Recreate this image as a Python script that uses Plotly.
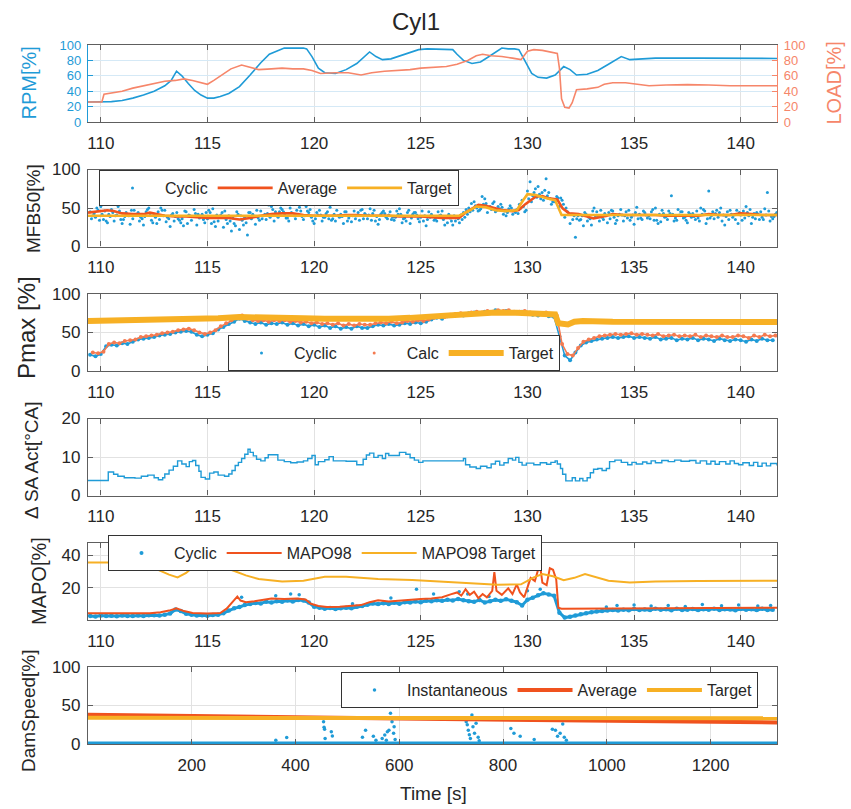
import plotly.graph_objects as go

BLUE = '#1f9bd7'
RED = '#f0521e'
YEL = '#f7b024'
SALMON = '#f6866a'
CALC = '#f47a50'
TXT = '#262626'
AX = '#5e5e5e'
GRID = '#e2e2e2'
FONT = 'Liberation Sans, Arial, sans-serif'

# ---------------- data ----------------
time_ticks = [110, 115, 120, 125, 130, 135, 140]
cycle_ticks = [200, 400, 600, 800, 1000, 1200]

rpm = [(109.4, 26), (110.0, 26), (110.5, 26.5), (111.0, 28), (111.5, 31), (112.0, 35), (112.5, 40),
       (113.0, 47), (113.3, 54), (113.55, 66), (113.8, 60), (114.1, 50), (114.4, 41), (114.7, 35),
       (115.0, 31), (115.3, 31), (115.6, 33), (116.0, 37), (116.5, 46), (117.0, 61), (117.5, 77),
       (117.9, 88), (118.3, 92), (118.6, 96), (119.0, 96), (119.5, 96), (119.65, 95), (119.9, 85),
       (120.2, 70), (120.5, 64), (121.0, 63), (121.5, 68), (122.0, 76), (122.3, 83), (122.6, 91),
       (122.9, 85), (123.2, 81), (123.6, 82), (124.0, 86), (124.5, 90), (124.9, 94), (125.3, 95),
       (126.0, 94), (126.5, 94), (126.7, 88), (127.0, 80), (127.4, 76), (127.8, 78), (128.2, 85),
       (128.6, 93), (128.8, 96), (129.1, 95), (129.4, 95), (129.6, 94), (129.9, 78), (130.2, 63),
       (130.5, 58), (130.9, 57), (131.3, 61), (131.7, 72), (132.0, 68), (132.3, 61), (132.8, 62),
       (133.3, 67), (133.8, 75), (134.4, 85), (134.8, 81), (135.3, 82), (136.0, 83), (138.0, 83),
       (140.0, 82.5), (141.7, 82.5)]

load = [(109.4, 26), (110.05, 26), (110.15, 36), (110.5, 38), (111.0, 40), (111.5, 44), (112.0, 47),
        (112.5, 50), (113.0, 53), (113.5, 54), (113.9, 56), (114.3, 54), (114.7, 51), (115.0, 49),
        (115.3, 54), (115.7, 62), (116.1, 69), (116.6, 74), (117.0, 71), (117.4, 68), (118.0, 69),
        (118.5, 70), (119.0, 69), (119.5, 69), (119.9, 67), (120.3, 63), (121.0, 64), (121.6, 64),
        (122.2, 61), (122.7, 64), (123.3, 66), (124.0, 67), (124.5, 68), (125.0, 70), (125.6, 71),
        (126.2, 72), (126.7, 75), (127.2, 80), (127.6, 86), (127.9, 88), (128.3, 86), (128.8, 85),
        (129.3, 83), (129.7, 81), (130.0, 92), (130.3, 94), (130.7, 93), (131.0, 91), (131.4, 89),
        (131.5, 70), (131.6, 30), (131.75, 19), (131.95, 18), (132.1, 25), (132.3, 42), (132.8, 43),
        (133.3, 45), (133.6, 49), (134.0, 51), (134.6, 51), (135.2, 49), (135.7, 47), (136.5, 48),
        (137.5, 48.5), (138.5, 48), (139.5, 47), (140.5, 47), (141.7, 47)]

# cyclic samples: first sample at 109.5 s, one every 0.25 s
cyc_t0 = 109.5
cyc_dt = 0.25

mfb_cyc_a = [45, 38, 52, 33, 48, 41, 30, 55, 36, 44, 28, 50, 42, 35, 47, 26, 39, 31, 45, 34,
             28, 42, 36, 49, 33, 25, 40, 30, 22, 38, 44, 29, 46, 35, 52, 40, 48, 37, 55, 42,
             35, 44, 30, 47, 38, 51, 33, 42, 45, 32, 40, 48, 36, 43, 29, 46, 41, 34, 49, 37,
             30, 44, 38, 27, 42, 33, 46, 31, 28, 36, 44, 50, 58, 47, 62, 52, 45, 55, 40, 50,
             48, 60, 72, 66, 78, 60, 70, 58, 52, 38, 30, 12, 35, 42, 28, 45, 38, 31, 46, 40,
             33, 47, 29, 42, 44, 36, 50, 32, 39, 66, 34, 45, 31, 43, 37, 48, 72, 36, 44, 28,
             47, 35, 41, 52, 30, 44, 38, 70, 36]
mfb_cyc_b = [40, 47, 35, 42, 33, 46, 39, 29, 82, 38, 45, 34, 30, 47, 38, 43, 36, 27, 41, 48,
             37, 31, 44, 26, 41, 35, 20, 45, 34, 15, 42, 37, 40, 54, 33, 45, 41, 50, 36, 46,
             52, 38, 44, 33, 45, 36, 40, 30, 37, 46, 34, 43, 49, 33, 42, 38, 35, 46, 31, 44,
             42, 36, 33, 45, 34, 40, 28, 37, 33, 41, 48, 56, 50, 65, 44, 56, 52, 42, 49, 46,
             55, 45, 84, 75, 62, 88, 55, 65, 60, 45, 35, 40, 27, 38, 50, 33, 43, 36, 30, 48,
             45, 38, 51, 35, 37, 48, 30, 43, 46, 33, 41, 38, 42, 35, 50, 30, 40, 47, 33, 45,
             38, 30, 46, 40, 43, 35, 49, 33, 42]
mfb_cyc_c = [36, 50, 42, 31, 44, 52, 35, 40, 47, 33, 39, 43, 38, 50, 32, 41, 44, 36, 30, 39,
             42, 35, 47, 32, 38, 46, 33, 27, 40, 31, 36, 47, 36, 43, 48, 38, 45, 33, 40, 51,
             40, 48, 36, 41, 43, 34, 47, 39, 33, 40, 44, 36, 41, 47, 35, 43, 45, 38, 42, 33,
             37, 41, 46, 35, 39, 45, 35, 42, 40, 31, 38, 45, 53, 49, 56, 48, 47, 51, 44, 42,
             43, 52, 62, 70, 68, 73, 62, 59, 63, 50, 42, 36, 40, 33, 46, 39, 35, 44, 38, 42,
             40, 34, 44, 37, 41, 45, 34, 47, 35, 42, 48, 37, 44, 39, 33, 46, 37, 43, 50, 39,
             42, 47, 34, 44, 38, 42, 35, 46, 39]
mfb_cyc_d = [43, 34, 46, 39, 40, 35, 44, 47, 42, 36, 48, 31, 45, 40, 36, 33, 34, 46, 40, 43,
             39, 44, 30, 41, 44, 30, 37, 42, 28, 44, 39, 34, 42, 38, 45, 50, 37, 44, 47, 39,
             46, 33, 41, 38, 36, 42, 38, 45, 40, 36, 47, 41, 34, 39, 44, 36, 38, 42, 36, 47,
             44, 32, 40, 38, 36, 41, 38, 33, 38, 35, 42, 47, 46, 55, 51, 58, 49, 46, 53, 44,
             50, 47, 58, 64, 70, 66, 58, 63, 55, 42, 40, 34, 44, 36, 40, 47, 40, 47, 34, 41,
             37, 41, 36, 46, 40, 34, 42, 38, 43, 37, 45, 34, 38, 46, 42, 36, 45, 38, 41, 35,
             41, 44, 37, 48, 36, 45, 41, 39, 44]
mfb_avg = [(109.4, 44), (109.8, 45), (110.3, 47), (110.6, 46), (111.0, 43), (111.5, 42), (112.0, 42),
           (112.3, 44), (112.7, 42), (113.0, 40), (113.5, 39), (114.0, 39), (114.5, 38), (115.0, 37),
           (115.5, 37), (116.0, 37), (116.5, 35), (117.0, 37), (117.5, 40), (118.0, 42), (118.5, 43),
           (119.0, 43), (119.5, 41), (120.0, 40), (120.5, 40), (121.0, 40), (121.5, 41), (122.0, 41),
           (122.5, 40), (123.0, 40), (123.5, 40), (124.0, 39), (124.5, 39), (125.0, 39), (125.5, 38),
           (126.0, 37), (126.5, 37), (126.8, 37), (127.1, 44), (127.7, 54), (128.05, 53), (128.4, 50),
           (128.8, 47.5), (129.3, 46), (129.6, 47.5), (129.9, 55), (130.4, 65), (130.7, 65.5),
           (131.0, 62.5), (131.4, 61), (131.65, 49.5), (131.96, 43), (132.4, 42), (132.8, 39),
           (133.1, 36.5), (133.5, 38.5), (134.0, 42), (134.5, 41), (135.0, 41), (136.0, 41),
           (136.5, 40), (137.5, 40), (138.0, 40), (138.5, 42), (139.0, 41), (139.5, 41),
           (140.0, 43), (140.5, 42), (141.0, 41), (141.7, 41)]
mfb_tgt = [(109.4, 40), (126.8, 40), (127.3, 47), (127.6, 52), (128.05, 51), (128.5, 47), (129.0, 46),
           (129.5, 47), (129.8, 60), (130.0, 68), (130.4, 67), (130.9, 62.5), (131.3, 60), (131.5, 47),
           (131.6, 41), (141.7, 41)]

pmax_cyc = [21, 19, 22, 32, 34, 33, 36, 35, 38, 41, 42, 43, 44, 46, 47, 48, 50, 51, 52, 51,
            47, 45, 47, 49, 54, 57, 61, 64, 68, 65, 63, 61, 63, 60, 62, 61, 63, 60, 62, 59,
            61, 58, 60, 57, 59, 56, 58, 55, 57, 55, 58, 56, 56, 58, 60, 59, 61, 59, 60, 62,
            61, 63, 62, 64, 67, 69, 68, 71, 72, 73, 72, 75, 76, 74, 77, 76, 79, 77, 78, 76,
            75, 77, 74, 73, 72, 74, 71, 70, 45, 20, 14, 24, 33, 37, 39, 41, 42, 43, 44, 43,
            44, 45, 43, 44, 43, 42, 44, 41, 42, 43, 40, 42, 41, 43, 40, 42, 41, 39, 42, 40,
            39, 41, 40, 38, 41, 39, 42, 40, 40]
pmax_calc = [24, 23, 25, 35, 37, 36, 39, 40, 41, 44, 45, 46, 47, 49, 50, 51, 53, 54, 55, 53,
             50, 48, 50, 53, 58, 62, 66, 69, 72, 68, 66, 65, 66, 64, 66, 65, 66, 64, 65, 63,
             64, 62, 63, 61, 62, 60, 62, 59, 61, 59, 61, 60, 60, 62, 63, 62, 64, 62, 63, 65,
             64, 66, 65, 67, 69, 71, 70, 73, 74, 75, 74, 76, 77, 76, 78, 77, 79, 78, 79, 77,
             77, 78, 76, 75, 74, 76, 73, 72, 35, 22, 20, 30, 38, 41, 43, 45, 46, 47, 48, 47,
             48, 49, 47, 48, 47, 46, 48, 45, 46, 47, 45, 46, 45, 47, 44, 46, 45, 44, 46, 44,
             44, 46, 45, 43, 46, 44, 47, 45, 46]
pmax_tgt = [(109.4, 65), (111.0, 65.5), (112.5, 66.5), (114.0, 67.5), (115.5, 68.5), (116.5, 70),
            (117.5, 70), (118.5, 69.5), (119.5, 68.5), (120.5, 68), (122.0, 67.5), (123.5, 68),
            (124.5, 69), (125.5, 70.5), (126.5, 72.5), (127.5, 74.5), (128.5, 76), (129.5, 75.5),
            (130.5, 74.5), (131.3, 73.5), (131.45, 62), (131.9, 60.5), (132.2, 64), (132.6, 65),
            (134.0, 64), (141.7, 63.5)]

sa = [(109.4, 3.9), (110.25, 3.9), (110.35, 6.1), (110.6, 5.5), (110.8, 5.0), (111.1, 4.6), (111.6, 4.5),
      (111.9, 5.0), (112.2, 5.3), (112.5, 4.6), (112.7, 4.1), (112.9, 4.6), (113.0, 5.6), (113.2, 6.6),
      (113.4, 7.6), (113.6, 9.0), (113.8, 8.2), (114.0, 7.5), (114.15, 8.8), (114.3, 9.1), (114.45, 7.8),
      (114.6, 6.3), (114.7, 4.7), (114.9, 4.3), (115.1, 5.8), (115.3, 6.1), (115.5, 5.3), (115.8, 5.0),
      (116.0, 5.6), (116.15, 6.5), (116.3, 7.8), (116.45, 8.6), (116.6, 9.6), (116.75, 10.7),
      (116.9, 12.0), (117.0, 11.2), (117.15, 10.3), (117.3, 9.4), (117.5, 9.0), (117.7, 9.8),
      (117.85, 10.6), (118.1, 10.6), (118.3, 9.2), (118.6, 8.8), (118.9, 8.5), (119.2, 8.7),
      (119.5, 9.0), (119.7, 9.6), (119.9, 10.4), (120.05, 8.0), (120.2, 8.8), (120.5, 9.3),
      (120.7, 10.1), (120.9, 9.0), (121.5, 8.9), (122.0, 8.0), (122.3, 9.4), (122.45, 10.5),
      (122.6, 11.0), (122.8, 9.9), (123.0, 10.4), (123.2, 9.6), (123.35, 10.9), (123.5, 10.4),
      (124.0, 11.2), (124.3, 10.7), (124.5, 9.8), (124.7, 9.2), (124.9, 8.6), (125.1, 9.0),
      (126.8, 9.0), (127.0, 9.6), (127.1, 8.0), (127.3, 7.4), (127.6, 7.0), (127.8, 7.6),
      (128.1, 7.2), (128.3, 8.2), (128.5, 8.9), (128.7, 7.9), (128.9, 8.5), (129.1, 9.6),
      (129.3, 9.2), (129.45, 9.9), (129.6, 8.6), (129.75, 7.9), (129.95, 8.4), (130.3, 8.0),
      (130.6, 8.5), (130.9, 8.1), (131.1, 8.6), (131.3, 9.0), (131.4, 8.2), (131.55, 7.0),
      (131.65, 5.5), (131.8, 3.8), (132.1, 4.6), (132.25, 3.8), (132.45, 4.4), (132.6, 3.8),
      (132.8, 4.6), (132.95, 5.9), (133.1, 6.8), (133.3, 7.0), (133.5, 6.5), (133.7, 7.0),
      (133.85, 8.8), (134.1, 9.2), (134.4, 8.6), (134.7, 8.0), (134.9, 8.6), (135.1, 8.2),
      (135.4, 8.7), (135.6, 8.3), (135.8, 9.0), (136.0, 8.5), (136.3, 9.1), (136.6, 8.8),
      (136.9, 9.2), (137.2, 8.9), (137.6, 9.1), (137.9, 8.4), (138.1, 9.0), (138.4, 8.2),
      (138.6, 8.9), (138.8, 8.1), (139.0, 8.8), (139.3, 8.2), (139.5, 9.0), (139.7, 8.3),
      (139.9, 8.0), (140.1, 8.5), (140.4, 7.8), (140.6, 8.6), (140.8, 7.6), (141.0, 8.4),
      (141.2, 7.7), (141.4, 8.3), (141.7, 7.8)]

mapo_cyc = [2.5, 2.2, 2.8, 2.4, 2.6, 2.3, 2.7, 2.5, 2.4, 2.8, 2.5, 2.9, 3.0, 2.7, 3.3, 4.0,
            6.5, 5.5, 3.8, 3.2, 2.8, 3.0, 2.6, 3.1, 3.3, 4.2, 5.8, 7.2, 8.0, 9.2, 9.8, 10.5,
            10.2, 11.3, 10.8, 11.6, 11.2, 12.0, 11.4, 12.3, 12.0, 10.8, 8.2, 7.5, 7.0, 7.4, 6.8, 7.3,
            7.6, 7.2, 8.1, 8.6, 9.4, 10.2, 9.8, 10.4, 9.9, 10.6, 10.1, 11.0, 10.8, 11.4, 11.0, 11.8,
            11.6, 12.2, 11.8, 12.5, 12.0, 13.0, 12.2, 11.5, 11.2, 12.4, 10.8, 11.6, 12.5, 11.8, 12.8, 11.9,
            11.0, 9.0, 12.5, 13.8, 15.2, 16.5, 15.8, 15.0, 4.5, 1.5, 2.0, 2.8, 3.5, 4.2, 4.8, 5.2,
            5.5, 5.8, 6.2, 5.9, 6.4, 6.0, 6.8, 6.2, 6.5, 6.1, 7.0, 6.3, 6.6, 6.0, 6.9, 6.2,
            6.4, 6.8, 6.1, 6.7, 6.3, 7.0, 6.2, 6.6, 6.5, 6.0, 6.8, 6.3, 6.6, 6.1, 6.9, 6.2, 6.4]
mapo_out = [(116.6, 14), (118.2, 15), (118.9, 16), (119.3, 15.5), (121.8, 10), (123.6, 13.5),
            (124.8, 19), (125.6, 16), (126.8, 17.5), (127.2, 16), (128.2, 14.5), (130.0, 18),
            (130.6, 19), (133.7, 8), (134.2, 9), (135.0, 9.3), (135.8, 8.6), (136.6, 9),
            (137.4, 8.4), (138.2, 9.5), (139.1, 8.8), (139.9, 9.2), (140.8, 8.7), (141.4, 9)]
mapo98 = [(109.4, 4.2), (112.3, 4.2), (112.8, 4.8), (113.2, 5.8), (113.55, 7.2), (113.9, 5.5), (114.3, 4.3),
          (115.0, 4.0), (115.6, 4.3), (115.9, 7), (116.2, 11.5), (116.4, 14.5), (116.55, 12), (116.8, 11),
          (117.2, 11.5), (117.6, 12.5), (118.0, 13.2), (118.6, 13), (119.2, 13.2), (119.6, 12.6),
          (119.85, 10), (120.2, 8.6), (120.6, 8), (121.2, 8.1), (121.7, 8.6), (122.2, 9.2), (122.6, 11),
          (123.0, 12.2), (123.5, 11.4), (124.0, 12), (124.5, 12.6), (125.0, 13), (125.5, 13.2),
          (126.0, 14), (126.4, 15.8), (126.7, 17), (126.9, 15), (127.1, 19), (127.3, 15.5),
          (127.5, 17.5), (127.7, 13.5), (127.9, 16), (128.1, 14), (128.35, 18), (128.45, 29.5),
          (128.55, 18), (128.8, 15.5), (129.1, 19.5), (129.3, 16), (129.5, 22), (129.65, 17),
          (129.85, 14), (130.0, 20), (130.15, 26), (130.35, 24), (130.5, 31), (130.6, 33),
          (130.7, 23), (130.9, 21.5), (131.05, 32), (131.2, 31), (131.35, 25), (131.45, 7.5),
          (131.6, 7), (141.7, 7.6)]
mapo_tgt = [(109.4, 35.4), (111.8, 35.4), (112.5, 32), (113.2, 28), (113.6, 26.3), (114.0, 29),
            (114.4, 33.5), (115.4, 34), (116.2, 30.5), (116.8, 27.5), (117.4, 25.3), (118.5, 23.8),
            (119.5, 24.2), (120.5, 26.7), (121.5, 26.7), (123.0, 25.3), (124.6, 24.6), (126.1, 23.6),
            (127.6, 22.5), (128.6, 21.7), (129.7, 22), (130.3, 26.3), (130.7, 28.4), (131.2, 27),
            (131.7, 24.6), (132.2, 26), (132.7, 28.4), (133.3, 26), (133.8, 24.2), (134.8, 23.2),
            (136.0, 23.8), (138.0, 24), (141.7, 24.2)]

dam_inst = [(362, 5), (383, 8.5), (454, 29), (455, 21.6), (456, 19), (457, 7), (469, 16), (471, 10.4),
            (529, 8.7), (535, 18), (550, 10), (555, 5), (567, 7), (572, 11.7), (575, 5), (577, 16),
            (580, 18), (583, 40), (586, 29), (589, 14), (590, 22.5), (592, 6), (729, 29), (731, 25),
            (733, 18), (735, 12), (737, 7), (740, 37.7), (742, 22.5), (745, 14), (748, 27),
            (752, 8.7), (754, 4.3), (815, 20), (821, 14), (833, 10), (860, 6), (895, 19), (901, 18),
            (905, 10), (910, 14), (915, 26), (918, 8.7), (922, 5)]
dam_base = [(0, 0), (1328, 0)]
dam_avg = [(0, 38), (200, 36.8), (400, 34.8), (600, 33), (800, 31.8), (1000, 30.4), (1200, 29), (1328, 28)]
dam_tgt = [(0, 34), (400, 33.6), (800, 33.4), (1328, 33.4)]


def X(p):
    return [a for a, _ in p]


def Y(p):
    return [b for _, b in p]


def cyc_times(vals, offset=0.0):
    return [cyc_t0 + offset + cyc_dt * i for i in range(len(vals))]


fig = go.Figure()

# panel 1
fig.add_trace(go.Scatter(x=X(rpm), y=Y(rpm), mode='lines', line=dict(color=BLUE, width=1.6),
                         xaxis='x', yaxis='y', showlegend=False))
fig.add_trace(go.Scatter(x=X(load), y=Y(load), mode='lines', line=dict(color=SALMON, width=1.6),
                         xaxis='x', yaxis='y7', showlegend=False))

# panel 2
for k, (vals, off) in enumerate([(mfb_cyc_a, 0.0), (mfb_cyc_c, 0.0625), (mfb_cyc_b, 0.125), (mfb_cyc_d, 0.1875)]):
    fig.add_trace(go.Scatter(x=cyc_times(vals, off), y=vals, mode='markers', name='Cyclic',
                             marker=dict(color=BLUE, size=3), xaxis='x2', yaxis='y2',
                             legend='legend', showlegend=(k == 0)))
fig.add_trace(go.Scatter(x=X(mfb_avg), y=Y(mfb_avg), mode='lines', name='Average',
                         line=dict(color=RED, width=2.6), xaxis='x2', yaxis='y2', legend='legend'))
fig.add_trace(go.Scatter(x=X(mfb_tgt), y=Y(mfb_tgt), mode='lines', name='Target',
                         line=dict(color=YEL, width=2.6), xaxis='x2', yaxis='y2', legend='legend'))

# panel 3
fig.add_trace(go.Scatter(x=cyc_times(pmax_cyc), y=pmax_cyc, mode='lines+markers',
                         line=dict(color=BLUE, width=1.6), marker=dict(color=BLUE, size=4),
                         xaxis='x3', yaxis='y3', showlegend=False))
fig.add_trace(go.Scatter(x=cyc_times(pmax_calc, 0.125), y=pmax_calc, mode='lines+markers',
                         line=dict(color=CALC, width=1.6), marker=dict(color=CALC, size=4),
                         xaxis='x3', yaxis='y3', showlegend=False))
fig.add_trace(go.Scatter(x=[None], y=[None], mode='markers', name='Cyclic', marker=dict(color=BLUE, size=3),
                         xaxis='x3', yaxis='y3', legend='legend2'))
fig.add_trace(go.Scatter(x=[None], y=[None], mode='markers', name='Calc', marker=dict(color=CALC, size=3),
                         xaxis='x3', yaxis='y3', legend='legend2'))
fig.add_trace(go.Scatter(x=X(pmax_tgt), y=Y(pmax_tgt), mode='lines', name='Target',
                         line=dict(color=YEL, width=6), xaxis='x3', yaxis='y3', legend='legend2'))

# panel 4
fig.add_trace(go.Scatter(x=X(sa), y=Y(sa), mode='lines', line=dict(color=BLUE, width=1.4, shape='hv'),
                         xaxis='x4', yaxis='y4', showlegend=False))

# panel 5
fig.add_trace(go.Scatter(x=cyc_times(mapo_cyc), y=mapo_cyc, mode='lines+markers',
                         line=dict(color=BLUE, width=3), marker=dict(color=BLUE, size=4.5),
                         xaxis='x5', yaxis='y5', showlegend=False))
fig.add_trace(go.Scatter(x=X(mapo_out), y=Y(mapo_out), mode='markers', marker=dict(color=BLUE, size=3.5),
                         xaxis='x5', yaxis='y5', showlegend=False))
fig.add_trace(go.Scatter(x=[None], y=[None], mode='markers', name='Cyclic', marker=dict(color=BLUE, size=4),
                         xaxis='x5', yaxis='y5', legend='legend3'))
fig.add_trace(go.Scatter(x=X(mapo98), y=Y(mapo98), mode='lines', name='MAPO98',
                         line=dict(color=RED, width=2), xaxis='x5', yaxis='y5', legend='legend3'))
fig.add_trace(go.Scatter(x=X(mapo_tgt), y=Y(mapo_tgt), mode='lines', name='MAPO98 Target',
                         line=dict(color=YEL, width=2), xaxis='x5', yaxis='y5', legend='legend3'))

# panel 6
fig.add_trace(go.Scatter(x=X(dam_base), y=Y(dam_base), mode='lines', line=dict(color=BLUE, width=5),
                         xaxis='x6', yaxis='y6', showlegend=False))
fig.add_trace(go.Scatter(x=X(dam_inst), y=Y(dam_inst), mode='markers', name='Instantaneous',
                         marker=dict(color=BLUE, size=3.5), xaxis='x6', yaxis='y6', legend='legend4'))
fig.add_trace(go.Scatter(x=X(dam_avg), y=Y(dam_avg), mode='lines', name='Average',
                         line=dict(color=RED, width=4), xaxis='x6', yaxis='y6', legend='legend4'))
fig.add_trace(go.Scatter(x=X(dam_tgt), y=Y(dam_tgt), mode='lines', name='Target',
                         line=dict(color=YEL, width=4), xaxis='x6', yaxis='y6', legend='legend4'))

# ---------------- layout ----------------
L, R, T, B = 88, 74, 45, 65
W, H = 851, 809
PH = H - T - B
PW = W - L - R


def dom(top_px, bot_px):
    return [(H - B - bot_px) / PH, (H - B - top_px) / PH]


panels = [(45, 122), (169.5, 246.5), (294, 371), (418.5, 495.5), (543, 620), (667, 744)]

axis_common = dict(showline=True, linecolor=AX, linewidth=1.3, ticks='inside', ticklen=5, tickcolor=AX,
                   showgrid=True, gridcolor=GRID, gridwidth=1, zeroline=False,
                   tickfont=dict(family=FONT, size=17, color=TXT))

layout = dict(width=W, height=H, margin=dict(l=L, r=R, t=T, b=B), plot_bgcolor='white',
              paper_bgcolor='white', font=dict(family=FONT, color=TXT))

for i in range(6):
    n = '' if i == 0 else str(i + 1)
    xa = dict(axis_common, anchor='y' + n, domain=[0, 1], mirror='ticks', ticklabelstandoff=5)
    if i < 5:
        xa.update(range=[109.4, 141.7], tickvals=time_ticks)
    else:
        xa.update(range=[0, 1328], tickvals=cycle_ticks)
    layout['xaxis' + n] = xa
    ya = dict(axis_common, anchor='x' + n, domain=dom(*panels[i]), mirror='ticks', ticklabelstandoff=3)
    layout['yaxis' + n] = ya

layout['yaxis'].update(range=[0, 100], tickvals=[0, 20, 40, 60, 80, 100], linecolor=BLUE, tickcolor=BLUE,
                       mirror=False, gridcolor='#d5e9f6', tickfont=dict(family=FONT, size=13, color=BLUE))
layout['yaxis7'] = dict(overlaying='y', side='right', anchor='x', range=[0, 100],
                        tickvals=[0, 20, 40, 60, 80, 100], showline=True, linecolor=SALMON, linewidth=1.3,
                        ticks='inside', ticklen=5, tickcolor=SALMON, showgrid=False, zeroline=False,
                        ticklabelstandoff=3, tickfont=dict(family=FONT, size=13, color=SALMON))
layout['yaxis2'].update(range=[0, 100], tickvals=[0, 50, 100])
layout['yaxis3'].update(range=[0, 100], tickvals=[0, 50, 100])
layout['yaxis4'].update(range=[0, 20], tickvals=[0, 10, 20])
layout['yaxis5'].update(range=[0, 47.5], tickvals=[20, 40])
layout['yaxis6'].update(range=[0, 100], tickvals=[0, 50, 100])


def px_x(px):
    return (px - L) / PW


def px_y(py):
    return (H - B - py) / PH


leg_common = dict(orientation='h', bgcolor='white', bordercolor='#333333', borderwidth=1,
                  font=dict(family=FONT, size=16, color=TXT), xanchor='left', yanchor='top',
                  itemsizing='trace', itemwidth=55, tracegroupgap=0)
layout['legend'] = dict(leg_common, x=px_x(99), y=px_y(170))
layout['legend2'] = dict(leg_common, x=px_x(228), y=px_y(371), yanchor='bottom')
layout['legend3'] = dict(leg_common, x=px_x(108), y=px_y(535))
layout['legend4'] = dict(leg_common, x=px_x(341), y=px_y(672))

ann = []
ann.append(dict(text='Cyl1', x=px_x(416), y=px_y(22), xref='paper', yref='paper', showarrow=False,
                font=dict(family=FONT, size=24, color=TXT), xanchor='center', yanchor='middle'))
ytitles = [('RPM[%]', 28, 83.5, BLUE, 20), ('LOAD[%]', 833, 83.5, SALMON, 20),
           ('MFB50[%]', 33, 209, TXT, 19), ('Pmax [%]', 26, 328, TXT, 24),
           ('Δ SA Act[°CA]', 31, 461, TXT, 19), ('MAPO[%]', 39, 581, TXT, 20),
           ('DamSpeed[%]', 28, 711, TXT, 19)]
for txt, xx, yy, col, sz in ytitles:
    ann.append(dict(text=txt, x=px_x(xx), y=px_y(yy), xref='paper', yref='paper', showarrow=False,
                    textangle=-90, font=dict(family=FONT, size=sz, color=col),
                    xanchor='center', yanchor='middle'))
ann.append(dict(text='Time [s]', x=px_x(433), y=px_y(793), xref='paper', yref='paper', showarrow=False,
                font=dict(family=FONT, size=19, color=TXT), xanchor='center', yanchor='middle'))
layout['annotations'] = ann

fig.update_layout(**layout)
fig.write_html('out.html', config={'displayModeBar': False},
               post_script="document.body.style.margin='0';document.body.style.padding='0';")
